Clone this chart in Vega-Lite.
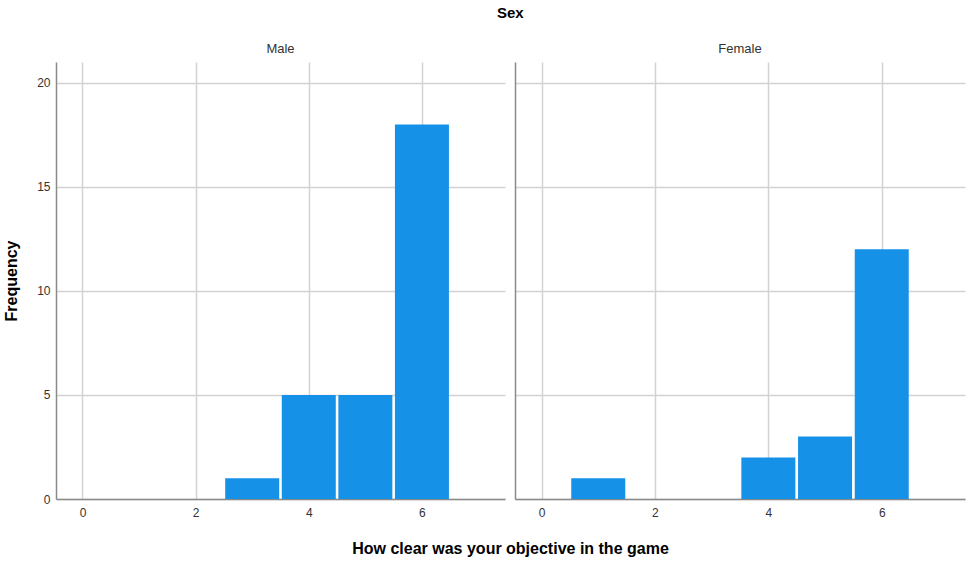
{
  "$schema": "https://vega.github.io/schema/vega-lite/v6.json",
  "background": "white",
  "padding": {"left": 3, "top": 6, "right": 4, "bottom": 5},
  "data": {"values": [
    {"sex": "Male", "value": 3, "count": 1},
    {"sex": "Male", "value": 4, "count": 5},
    {"sex": "Male", "value": 5, "count": 5},
    {"sex": "Male", "value": 6, "count": 18},
    {"sex": "Female", "value": 1, "count": 1},
    {"sex": "Female", "value": 4, "count": 2},
    {"sex": "Female", "value": 5, "count": 3},
    {"sex": "Female", "value": 6, "count": 12}
  ]},
  "title": {"text": "Sex", "anchor": "middle", "frame": "bounds", "dx": 26, "font": "Liberation Sans", "fontSize": 15, "fontWeight": "bold", "color": "#000", "offset": 22},
  "spacing": 10,
  "bounds": "flush",
  "config": {
    "view": {"stroke": null},
    "axis": {
      "labelFont": "Liberation Sans", "labelFontSize": 12, "labelColor": "#333",
      "titleFont": "Liberation Sans", "titleFontSize": 16, "titleFontWeight": "bold", "titleColor": "#000",
      "gridColor": "#d2d2d2", "gridWidth": 1.5, "domainColor": "#8a8a8a", "domainWidth": 1.5, "ticks": false
    },
    "title": {"font": "Liberation Sans", "fontSize": 13, "fontWeight": "normal", "color": "#333"}
  },
  "hconcat": [
    {
      "width": 449, "height": 437,
      "title": {"text": "Male", "offset": 6},
      "transform": [{"filter": "datum.sex === 'Male'"}],
      "mark": {"type": "bar", "width": 54, "color": "#1592e8"},
      "encoding": {
        "x": {"field": "value", "type": "quantitative", "scale": {"domain": [-0.38, 7.38], "nice": false, "zero": false},
              "axis": {"values": [0, 2, 4, 6], "title": "How clear was your objective in the game", "titleX": 454, "titleY": 49, "titleAlign": "center", "titleBaseline": "middle", "labelPadding": 8}},
        "y": {"field": "count", "type": "quantitative", "scale": {"domain": [0, 21], "nice": false},
              "axis": {"values": [0, 5, 10, 15, 20], "title": "Frequency", "labelPadding": 6, "titlePadding": 17}}
      }
    },
    {
      "width": 450, "height": 437,
      "title": {"text": "Female", "offset": 6},
      "transform": [{"filter": "datum.sex === 'Female'"}],
      "mark": {"type": "bar", "width": 54, "color": "#1592e8"},
      "encoding": {
        "x": {"field": "value", "type": "quantitative", "scale": {"domain": [-0.38, 7.38], "nice": false, "zero": false},
              "axis": {"values": [0, 2, 4, 6], "title": null, "labelPadding": 8}},
        "y": {"field": "count", "type": "quantitative", "scale": {"domain": [0, 21], "nice": false},
              "axis": {"values": [0, 5, 10, 15, 20], "title": null, "labels": false}}
      }
    }
  ]
}
